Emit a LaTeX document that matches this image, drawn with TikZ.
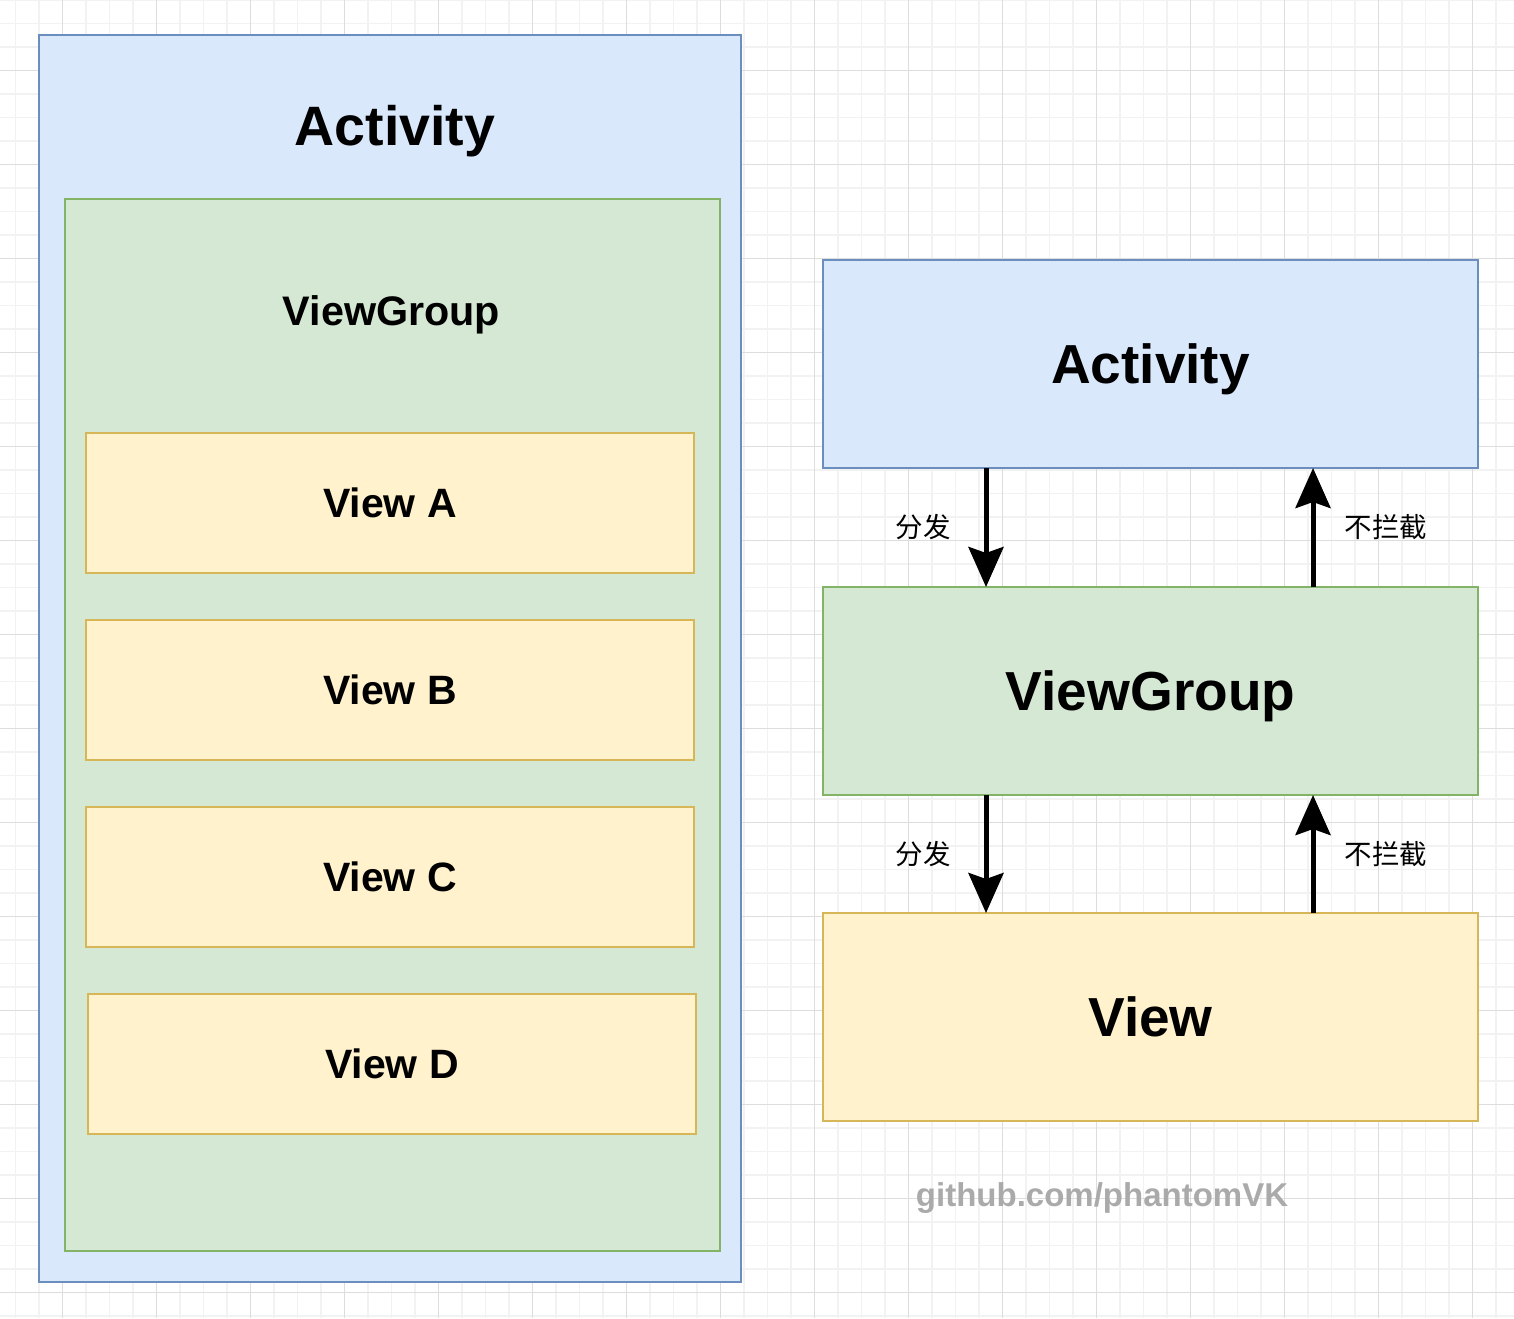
\documentclass[tikz,border=0pt]{standalone}
\usepackage{fontspec}
\setmainfont{Liberation Sans}
\newfontfamily\cjk{Noto Sans CJK SC}
\usetikzlibrary{positioning,arrows.meta}

\definecolor{actfill}{HTML}{DAE8FC}
\definecolor{actline}{HTML}{6C8EBF}
\definecolor{groupfill}{HTML}{D5E8D4}
\definecolor{groupline}{HTML}{82B366}
\definecolor{viewfill}{HTML}{FFF2CC}
\definecolor{viewline}{HTML}{D6B656}
\definecolor{gridmajor}{HTML}{DDDDDD}
\definecolor{gridminor}{HTML}{F2F2F2}
\definecolor{credit}{HTML}{AAAAAA}

\begin{document}
\begin{tikzpicture}[x=1pt,y=-1pt,
  box/.style={line width=2.4pt, inner sep=0pt, outer sep=0pt, text depth=0pt},
  actbox/.style={box, fill=actfill, draw=actline},
  groupbox/.style={box, fill=groupfill, draw=groupline},
  viewbox/.style={box, fill=viewfill, draw=viewline, minimum width=608pt, minimum height=140pt,
    text height=29.4pt, font=\fontsize{41}{46}\selectfont\bfseries},
  rightbox/.style={minimum width=655pt, minimum height=208pt, text height=39.4pt,
    font=\fontsize{55}{62}\selectfont\bfseries},
  flow/.style={-{Stealth[length=40pt,width=35pt,inset=6pt]}, line width=5pt},
  lbl/.style={inner sep=0pt, font=\cjk\fontsize{27.5}{30}\selectfont}]

\useasboundingbox (0,0) rectangle (1514,1318);
\fill[white] (0,0) rectangle (1514,1318);

% grid
\foreach \i in {0,...,64}
  \draw[gridminor, line width=1.5pt] ({15.3+23.5*\i},0) -- ({15.3+23.5*\i},1318);
\foreach \j in {-1,...,56}
  \draw[gridminor, line width=1.5pt] (0,{23.3+23.5*\j}) -- (1514,{23.3+23.5*\j});
\foreach \i in {0,...,15}
  \draw[gridmajor, line width=1.5pt] ({62.3+94*\i},0) -- ({62.3+94*\i},1318);
\foreach \j in {0,...,13}
  \draw[gridmajor, line width=1.5pt] (0,{70.3+94*\j}) -- (1514,{70.3+94*\j});

% left: nesting
\node[actbox, minimum width=702pt, minimum height=1247pt] (act) at (390,658.5){};
\node[anchor=base, font=\fontsize{55.5}{62}\selectfont\bfseries] (actname) at (395,145){Activity};

\node[groupbox, minimum width=655pt, minimum height=1052pt] (vg) at (392.5,725){};
\node[anchor=base, font=\fontsize{41.3}{46}\selectfont\bfseries] (vgname) at (391.5,325){ViewGroup};

\node[viewbox] (va) at (390,503){View A};
\node[viewbox] (vb) at (390,690){View B};
\node[viewbox] (vc) at (390,877){View C};
\node[viewbox] (vd) at (392,1064){View D};

% right: dispatch chain
\node[actbox, rightbox] (ract) at (1150.5,364){Activity};
\node[groupbox, rightbox] (rvg) at (1150.5,691){ViewGroup};
\node[viewbox, rightbox] (rview) at (1150.5,1017){View};

\coordinate (down) at (986,0);
\coordinate (up) at (1313,0);

\draw[flow] (ract.south -| down) -- node[lbl, left=33pt]{分发} (rvg.north -| down);
\draw[flow] (rvg.north -| up) -- node[lbl, right=29pt]{不拦截} (ract.south -| up);

\draw[flow] (rvg.south -| down) -- node[lbl, left=33pt]{分发} (rview.north -| down);
\draw[flow] (rview.north -| up) -- node[lbl, right=29pt]{不拦截} (rvg.south -| up);

\node[anchor=base, text=credit, font=\fontsize{33}{38}\selectfont\bfseries] (site) at (1102,1206){github.com/phantomVK};

\end{tikzpicture}
\end{document}
